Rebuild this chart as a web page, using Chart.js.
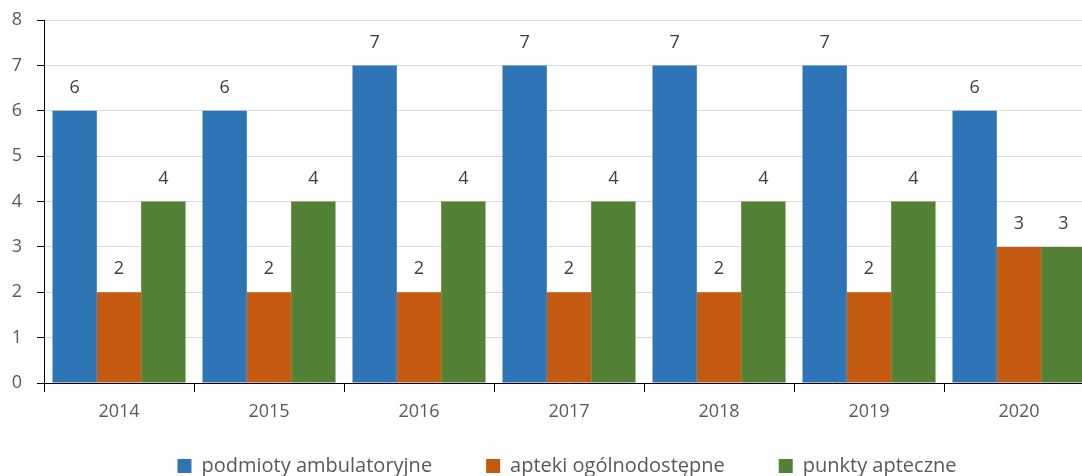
<!DOCTYPE html>
<html>
<head>
<meta charset="utf-8">
<script src="https://cdn.jsdelivr.net/npm/chart.js@4"></script>
<style>
  html, body { margin: 0; padding: 0; background: #fff; overflow: hidden; }
  #wrap { width: 1186px; height: 476px; }
</style>
</head>
<body>
<div id="wrap"><canvas id="barChart" width="1186" height="476"></canvas></div>
<script>
// chart data
const years = ['2014', '2015', '2016', '2017', '2018', '2019', '2020'];
const podmiotyAmbulatoryjne = [6, 6, 7, 7, 7, 7, 6];
const aptekiOgolnodostepne = [2, 2, 2, 2, 2, 2, 3];
const punktyApteczne = [4, 4, 4, 4, 4, 4, 3];
const yTicks = [0, 1, 2, 3, 4, 5, 6, 7, 8];

const FONT = "'Open Sans', sans-serif";

// draws the value over each bar
const valueLabels = {
    id: 'valueLabels',
    afterDatasetsDraw(chart) {
        const ctx = chart.ctx;
        ctx.save();
        ctx.font = '18px ' + FONT;
        ctx.fillStyle = '#404040';
        ctx.textAlign = 'center';
        ctx.textBaseline = 'middle';
        chart.data.datasets.forEach((ds, i) => {
            chart.getDatasetMeta(i).data.forEach((bar, j) => {
                ctx.fillText(ds.data[j], bar.x, bar.y - 23);
            });
        });
        ctx.restore();
    }
};

// x labels are clipped to the scale box, so let it reach the bottom;
// also nudge the legend so it is centred like the original
const layoutTweaks = {
    id: 'layoutTweaks',
    afterLayout(chart) {
        chart.scales.x.bottom = chart.height;
        chart.legend.left += 20;
        chart.legend.right += 20;
    }
};

new Chart(document.getElementById('barChart'), {
    type: 'bar',
    data: {
        labels: years,
        datasets: [
            { label: 'podmioty ambulatoryjne', data: podmiotyAmbulatoryjne, backgroundColor: '#2E75B6' },
            { label: 'apteki ogólnodostępne', data: aptekiOgolnodostepne, backgroundColor: '#C55A11' },
            { label: 'punkty apteczne', data: punktyApteczne, backgroundColor: '#538135' }
        ]
    },
    options: {
        responsive: false,
        animation: false,
        datasets: {
            bar: { categoryPercentage: 0.887, barPercentage: 1.0 }
        },
        layout: { padding: { top: 20, left: 0, right: 92, bottom: -10 } },
        plugins: {
            tooltip: { enabled: false },
            legend: {
                position: 'bottom',
                labels: {
                    font: { family: FONT, size: 20 },
                    color: '#595959',
                    boxWidth: 14,
                    boxHeight: 14,
                    padding: 54
                }
            }
        },
        scales: {
            x: {
                grid: {
                    offset: true,
                    drawOnChartArea: false,
                    tickLength: 9,
                    tickColor: '#000'
                },
                border: { color: '#000', width: 1 },
                ticks: {
                    font: { family: FONT, size: 18 },
                    color: '#595959',
                    padding: 9
                },
                afterFit(scale) { scale.height = 19; }
            },
            y: {
                min: 0,
                max: 8,
                afterBuildTicks(scale) { scale.ticks = yTicks.map(v => ({ value: v })); },
                grid: {
                    color: '#d9d9d9',
                    lineWidth: 1,
                    tickLength: 7,
                    tickColor: '#000'
                },
                border: { color: '#000', width: 1 },
                ticks: {
                    font: { family: FONT, size: 18 },
                    color: '#595959',
                    padding: 15
                },
                afterFit(scale) {
                    scale.width = 44;
                    scale.paddingTop = 0;
                    scale.paddingBottom = 0;
                }
            }
        }
    },
    plugins: [valueLabels, layoutTweaks]
});
</script>
</body>
</html>
